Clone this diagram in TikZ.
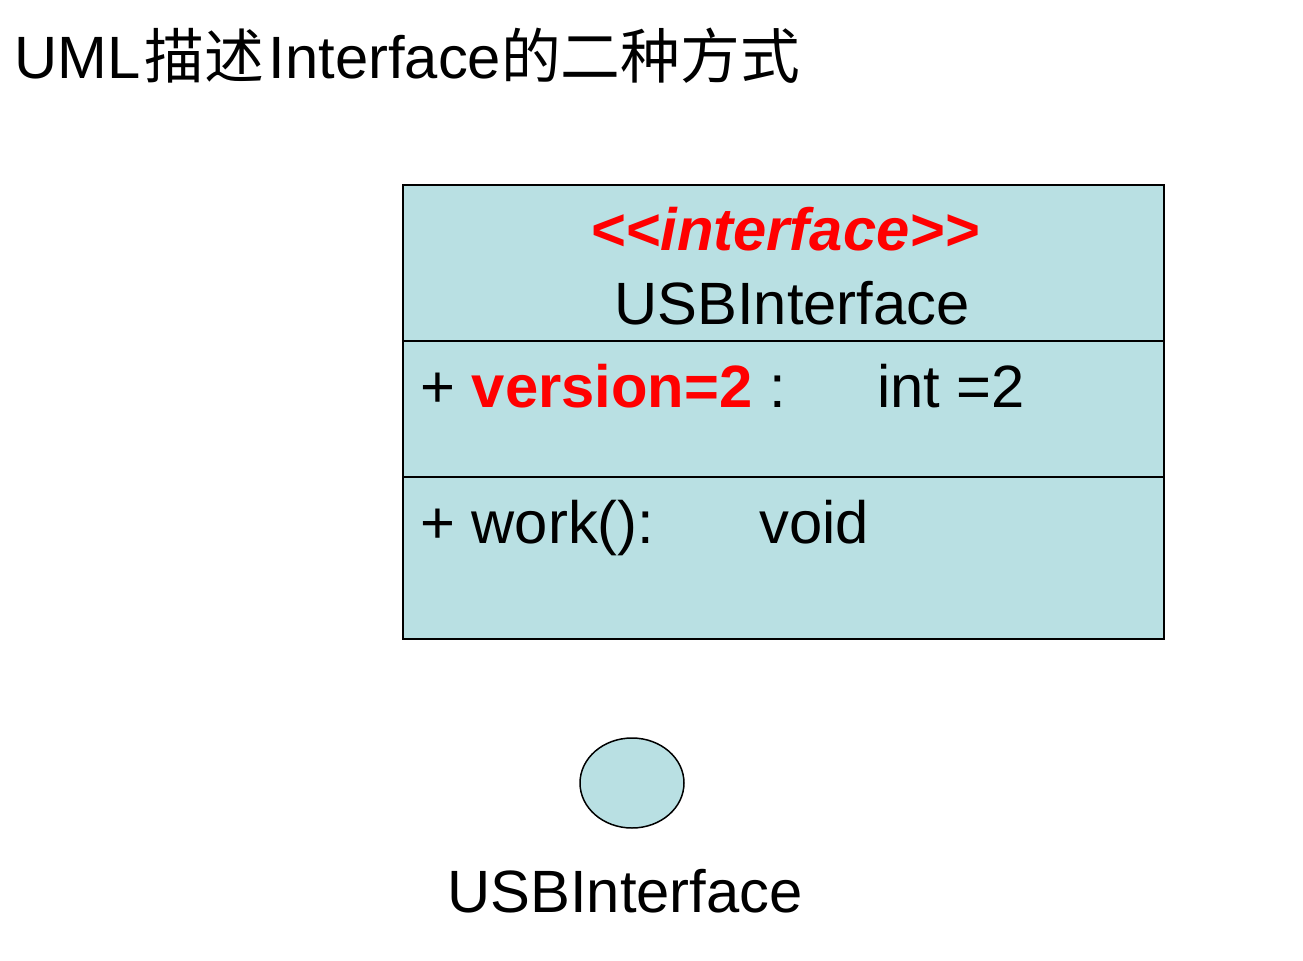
\documentclass[tikz,border=0pt]{standalone}
\usepackage{fontspec}
\setmainfont{Liberation Sans}
\newfontfamily\cjk{Noto Sans CJK SC}
\definecolor{umlfill}{RGB}{185,224,227}
\definecolor{umlred}{RGB}{255,0,0}
\begin{document}
\begin{tikzpicture}[x=0.02cm,y=-0.02cm,
  txt/.style={inner sep=0pt,anchor=base west,font=\fontsize{34}{40}\selectfont},
  ctxt/.style={inner sep=0pt,anchor=base,font=\fontsize{34}{40}\selectfont},
  boxline/.style={draw=black,line width=1.1pt}]
\useasboundingbox (0,0) rectangle (1303,961);
% title
\node[txt] (title) at (14,78) {UML\kern2.5pt{\cjk 描述}\kern2.5pt Interface{\cjk 的二种方式}};
% class box
\path[boxline,fill=umlfill] (403,185) rectangle (1164,639);
\coordinate (d1l) at (403,341); \coordinate (d1r) at (1164,341);
\coordinate (d2l) at (403,477); \coordinate (d2r) at (1164,477);
\draw[boxline] (d1l) -- (d1r);
\draw[boxline] (d2l) -- (d2r);
\node[ctxt,text=umlred,font=\fontsize{34}{40}\selectfont\bfseries\itshape] (stereo) at (785,250) {<\kern0pt<interface>\kern0pt>};
\node[ctxt] (cname) at (792,324) {USBInterface};
\node[txt] (attr) at (420,407) {+ \textcolor{umlred}{\bfseries version=2} :};
\node[txt] (atype) at (877,407) {int =2};
\node[txt] (op) at (420,543) {+ work():};
\node[txt] (otype) at (759,543) {void};
% lollipop form
\draw[line width=0.85pt,fill=umlfill] (632,783) ellipse [x radius=52, y radius=45];
\node[ctxt] (lname) at (625,912) {USBInterface};
\end{tikzpicture}
\end{document}
